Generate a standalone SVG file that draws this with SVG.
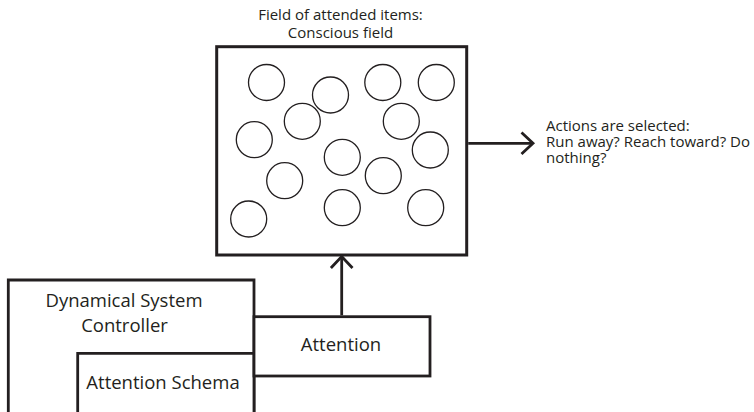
<svg xmlns="http://www.w3.org/2000/svg" width="754" height="412" viewBox="0 0 754 412">
<style>
.box{fill:#fff;stroke:#231f20;stroke-width:2.8}
.main{fill:#fff;stroke:#231f20;stroke-width:3}
.item{fill:none;stroke:#231f20;stroke-width:1.3}
.conn{fill:none;stroke:#231f20;stroke-width:2.8}
.sm{font-family:"Open Sans","Liberation Sans",sans-serif;font-size:15px;fill:#231f20}
.lg{font-family:"Open Sans","Liberation Sans",sans-serif;font-size:18.5px;fill:#231f20}
.mid{text-anchor:middle}
</style>
<defs>
<marker id="chev" markerUnits="userSpaceOnUse" viewBox="-15 -14 18 28" refX="0" refY="0" markerWidth="18" markerHeight="28" orient="auto" overflow="visible">
<path d="M-11.5,-10.8 L0,0 L-11.5,10.8" fill="none" stroke="#231f20" stroke-width="2.8"/>
</marker>
</defs>
<g id="dsc">
<path class="box" d="M8.3,420 V280 H254 V420"/>
<text class="lg mid" x="124" y="307.3">Dynamical  System</text>
<text class="lg mid" x="124.5" y="331.7">Controller</text>
</g>
<g id="schema">
<path class="box" d="M77.7,420 V353.3 H254 V420"/>
<text class="lg mid" x="163" y="389.3">Attention Schema</text>
</g>
<g id="attention">
<rect class="box" x="254" y="316.7" width="176" height="59.3"/>
<text class="lg mid" x="341" y="350.7">Attention</text>
</g>
<g id="field">
<rect class="main" x="216.7" y="46.7" width="250" height="208.3"/>
<text class="sm mid" x="340.5" y="19.5">Field of attended items:</text>
<text class="sm mid" x="340.5" y="38">Conscious field</text>
<circle class="item" cx="266.5" cy="82.5" r="18"/>
<circle class="item" cx="330.5" cy="95" r="18"/>
<circle class="item" cx="382.8" cy="82.5" r="18"/>
<circle class="item" cx="436.3" cy="82.5" r="18"/>
<circle class="item" cx="302.3" cy="121.3" r="18"/>
<circle class="item" cx="401.3" cy="121.3" r="18"/>
<circle class="item" cx="254.3" cy="139.7" r="18"/>
<circle class="item" cx="430.3" cy="150" r="18"/>
<circle class="item" cx="342.3" cy="157.3" r="18"/>
<circle class="item" cx="284.7" cy="180.7" r="18"/>
<circle class="item" cx="383.3" cy="175.7" r="18"/>
<circle class="item" cx="248.7" cy="219" r="18"/>
<circle class="item" cx="342.3" cy="207.7" r="18"/>
<circle class="item" cx="425.7" cy="207.7" r="18"/>
</g>
<g id="actions">
<text class="sm" x="546" y="130.7">Actions are selected:</text>
<text class="sm" x="546" y="146.7">Run away? Reach toward? Do</text>
<text class="sm" x="546" y="163">nothing?</text>
</g>
<g id="connectors">
<path class="conn" d="M468.2,143.3 H533" marker-end="url(#chev)"/>
<path class="conn" d="M341.7,315.3 V256.5" marker-end="url(#chev)"/>
</g>
</svg>
